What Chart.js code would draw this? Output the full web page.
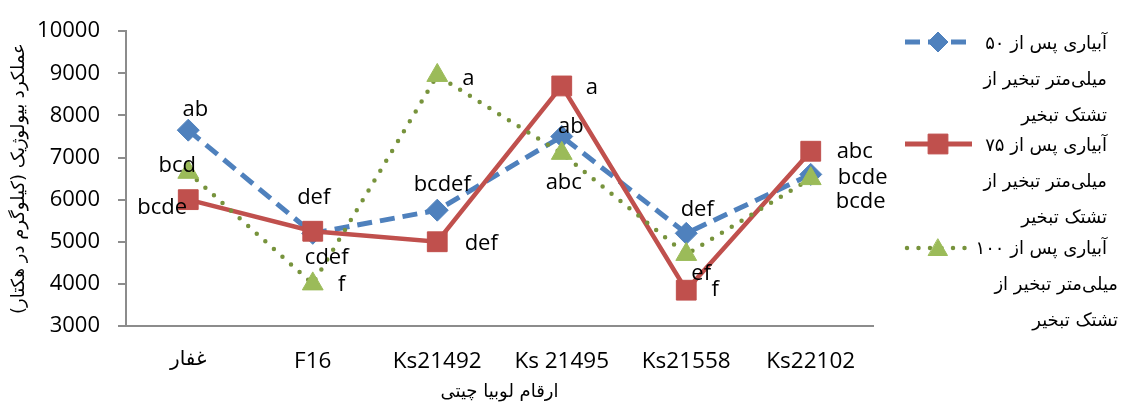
<!DOCTYPE html>
<html>
<head>
<meta charset="utf-8">
<script src="https://cdn.jsdelivr.net/npm/chart.js@4/dist/chart.umd.min.js"></script>
<style>
html,body{margin:0;padding:0;background:#fff;}
#wrap{position:relative;width:1121px;height:407px;}
</style>
</head>
<body>
<div id="wrap"><canvas id="c" width="1121" height="407"></canvas></div>
<script>
// ---- data ----
const categories = ['غفار', 'F16', 'Ks21492', 'Ks 21495', 'Ks21558', 'Ks22102'];
const yield50  = [7650, 5200, 5750, 7500, 5200, 6600];
const yield75  = [6000, 5250, 5000, 8700, 3850, 7150];
const yield100 = [6650, 4000, 8950, 7100, 4700, 6500];
const letters50  = ['ab', 'def', 'bcdef', 'ab', 'def', 'bcde'];
const letters75  = ['bcde', 'cdef', 'def', 'a', 'f', 'abc'];
const letters100 = ['bcd', 'f', 'a', 'abc', 'ef', 'bcde'];
const seriesNames = [
  ['آبیاری پس از ۵۰', 'میلی‌متر تبخیر از', 'تشتک تبخیر'],
  ['آبیاری پس از ۷۵', 'میلی‌متر تبخیر از', 'تشتک تبخیر'],
  ['آبیاری پس از ۱۰۰', 'میلی‌متر تبخیر از', 'تشتک تبخیر']
];
const yMin = 3000, yMax = 10000, yStep = 1000;
const yTitle = 'عملکرد بیولوژیک (کیلوگرم در هکتار)';
const xTitle = 'ارقام لوبیا چیتی';

// ---- styles ----
const BLUE = '#4F81BD', RED = '#C0504D', GREEN = '#9BBB59', GREEN_LINE = '#77933C';
const latinFont = "'Open Sans', 'DejaVu Sans', sans-serif";
const faFont = "'DejaVu Sans', sans-serif";
// label offsets (px) relative to point, per series
const labelOffsets = [
  [[7,-20],[1,-36],[5,-25],[9,-10],[11,-24],[52,3]],
  [[-26,8],[14,26],[44,2],[30,2],[29,0],[44,1]],
  [[-11,-7],[29,1],[31,3],[2,29],[15,19],[50,23]]
];
const allLetters = [letters50, letters75, letters100];

const labelPlugin = {
  id: 'letters',
  afterDatasetsDraw(chart) {
    const ctx = chart.ctx;
    ctx.save();
    ctx.font = '22px ' + latinFont;
    ctx.fillStyle = '#000';
    ctx.textAlign = 'center';
    ctx.textBaseline = 'middle';
    chart.data.datasets.forEach((ds, di) => {
      const meta = chart.getDatasetMeta(di);
      meta.data.forEach((pt, i) => {
        const o = labelOffsets[di][i];
        ctx.fillText(allLetters[di][i], pt.x + o[0], pt.y + o[1]);
      });
    });
    ctx.restore();
  }
};

const legendPlugin = {
  id: 'rtlLegend',
  afterDraw(chart) {
    const ctx = chart.ctx;
    const groups = [
      {y: 42, color: BLUE, kind: 'dash', style: 'rectRot', r: 10, lines: [44, 80, 116], shift: [0,0,0]},
      {y: 144, color: RED, kind: 'solid', style: 'rect', r: 14, lines: [146, 182, 218], shift: [0,0,0]},
      {y: 248, color: GREEN, kind: 'dot', style: 'triangle', r: 11, lines: [249, 285, 321], shift: [0,11,11]}
    ];
    ctx.save();
    groups.forEach((g, gi) => {
      ctx.beginPath();
      ctx.lineWidth = g.kind === 'dot' ? 4.5 : 5;
      if (g.kind === 'dash') { ctx.setLineDash([15, 8]); ctx.lineCap = 'butt'; ctx.strokeStyle = BLUE; }
      else if (g.kind === 'dot') { ctx.setLineDash([0, 11.5]); ctx.lineCap = 'round'; ctx.strokeStyle = GREEN_LINE; }
      else { ctx.setLineDash([]); ctx.lineCap = 'butt'; ctx.strokeStyle = RED; }
      ctx.moveTo(g.kind === 'dot' ? 907 : 905, g.y);
      ctx.lineTo(g.kind === 'dash' ? 968 : 972, g.y);
      ctx.stroke();
      ctx.setLineDash([]);
      ctx.fillStyle = g.color;
      ctx.strokeStyle = g.color;
      ctx.lineWidth = 1;
      Chart.helpers.drawPoint(ctx, {pointStyle: g.style, radius: g.r, borderWidth: 1, rotation: 0}, 938, g.y + (g.style === 'triangle' ? 2 : 0));
      ctx.font = '18px ' + faFont;
      ctx.fillStyle = '#000';
      ctx.direction = 'rtl';
      ctx.textAlign = 'right';
      ctx.textBaseline = 'middle';
      seriesNames[gi].forEach((t, li) => {
        ctx.fillText(t, 1107 + g.shift[li], g.lines[li]);
      });
      ctx.direction = 'ltr';
    });
    ctx.restore();
  }
};

new Chart(document.getElementById('c'), {
  type: 'line',
  data: {
    labels: categories,
    datasets: [
      {
        label: seriesNames[0].join(' '), data: yield50, order: 3,
        borderColor: BLUE, backgroundColor: BLUE, borderWidth: 5,
        borderDash: [15, 8], borderCapStyle: 'butt',
        pointStyle: 'rectRot', pointRadius: 11, pointBackgroundColor: BLUE, pointBorderColor: BLUE, pointBorderWidth: 1,
        tension: 0, fill: false
      },
      {
        label: seriesNames[1].join(' '), data: yield75, order: 2,
        borderColor: RED, backgroundColor: RED, borderWidth: 4.5,
        pointStyle: 'rect', pointRadius: 14, pointBackgroundColor: RED, pointBorderColor: RED, pointBorderWidth: 1,
        tension: 0, fill: false
      },
      {
        label: seriesNames[2].join(' '), data: yield100, order: 1,
        borderColor: GREEN_LINE, backgroundColor: GREEN, borderWidth: 4.5,
        borderDash: [0, 11.5], borderCapStyle: 'round',
        pointStyle: 'triangle', pointRadius: 12, pointBackgroundColor: GREEN, pointBorderColor: GREEN, pointBorderWidth: 1,
        tension: 0, fill: false
      }
    ]
  },
  options: {
    responsive: false,
    animation: false,
    devicePixelRatio: 1,
    layout: { padding: { left: 0, top: 24, right: 248, bottom: 0 } },
    plugins: { legend: { display: false }, tooltip: { enabled: false } },
    scales: {
      x: {
        offset: true,
        grid: { display: false, drawTicks: false },
        border: { display: true, color: '#8c8c8c', width: 2 },
        ticks: {
          color: '#000',
          font: (c) => (c.index === 0 ? { family: faFont, size: 20 } : { family: latinFont, size: 22.5 }),
          padding: 22, maxRotation: 0, autoSkip: false
        },
        title: { display: true, text: xTitle, color: '#000', font: { family: faFont, size: 18 }, padding: { top: 0, bottom: 4 } },
        afterFit(s) { s.height = 81; }
      },
      y: {
        min: yMin, max: yMax,
        grid: { display: true, drawOnChartArea: false, drawTicks: true, tickLength: 8, color: '#8c8c8c', lineWidth: 2 },
        border: { display: true, color: '#8c8c8c', width: 2 },
        ticks: { stepSize: yStep, color: '#000', font: { family: latinFont, size: 22 }, padding: 18, callback: (v) => String(v) },
        title: { display: true, text: yTitle, color: '#000', font: { family: faFont, size: 18 }, padding: { top: 9, bottom: 0 } },
        afterFit(s) { s.width = 126; }
      }
    }
  },
  plugins: [labelPlugin, legendPlugin]
});
</script>
</body>
</html>
